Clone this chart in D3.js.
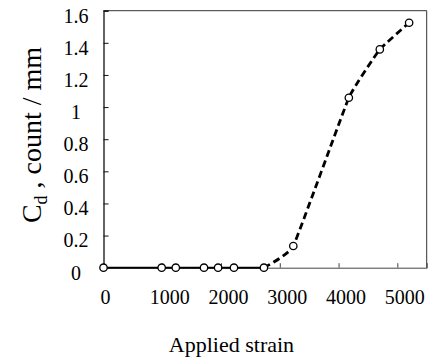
<!DOCTYPE html>
<html>
<head>
<meta charset="utf-8">
<script src="https://cdn.jsdelivr.net/npm/d3@7"></script>
<style>
	body { margin: 0; background: #fff; }
	text { font-family: "Liberation Serif", "Times New Roman", serif; fill: #000; }
</style>
</head>
<body>
<script>
// strain values and crack density (count / mm)
var flatStrain = [0, 990, 1230, 1710, 1950, 2220, 2730];
var flatCd = [0, 0, 0, 0, 0, 0, 0];
var riseStrain = [2730, 3230, 4175, 4702, 5201];
var riseCd = [0, 0.135, 1.058, 1.359, 1.525];
var xTicks = [0, 1000, 2000, 3000, 4000, 5000];
var yTicks = [0, 0.2, 0.4, 0.6, 0.8, 1, 1.2, 1.4, 1.6];

var serif = "'Liberation Serif', 'Times New Roman', serif";

var width = 432,
	height = 358;

var svg = d3.select("body")
			.append("svg")
			.attr("width", width)
			.attr("height", height);

var x = d3.scaleLinear().domain([0, 5500]).range([103.5, 426.7]);
var y = d3.scaleLinear().domain([0, 1.6]).range([267.7, 10.7]);

// box: top and right borders
svg.append("path")
	.attr("d", "M" + x(0) + "," + y(1.6) + "H" + x(5500) + "V" + y(0))
	.attr("fill", "none")
	.attr("stroke", "#333")
	.attr("stroke-width", 1);

// y axis, ticks inside
var yAxis = svg.append("g")
	.attr("transform", "translate(" + x(0) + ",0)")
	.call(d3.axisLeft(y).tickValues(yTicks).tickSize(-5).tickPadding(0)
		.tickFormat(function(d) { return d3.format("~g")(d); }))
	.attr("font-family", serif)
	.attr("font-size", 20);
yAxis.select(".domain").attr("stroke", "#111").attr("stroke-width", 1.3);
yAxis.selectAll(".tick line").attr("stroke", "#111");
yAxis.selectAll("text")
	.attr("x", -27.5)
	.attr("y", 5)
	.attr("text-anchor", "middle");

// x axis, ticks inside
var xAxis = svg.append("g")
	.attr("transform", "translate(0," + y(0) + ")")
	.call(d3.axisBottom(x).tickValues(xTicks).tickSize(-4.5).tickPadding(0)
		.tickFormat(d3.format("d")))
	.attr("font-family", serif)
	.attr("font-size", 20);
xAxis.select(".domain").attr("stroke", "#444").attr("stroke-width", 1);
xAxis.selectAll(".tick line").attr("stroke", "#444");
xAxis.selectAll("text")
	.attr("y", 36.5)
	.attr("dy", 0)
	.attr("dx", function(d) { return d === 0 ? 1.5 : 7; });

var flatPts = flatStrain.map(function(s, i) { return [s, flatCd[i]]; });
var risePts = riseStrain.map(function(s, i) { return [s, riseCd[i]]; });

var line = d3.line()
	.x(function(d) { return x(d[0]); })
	.y(function(d) { return y(d[1]); });

// solid line along zero
svg.append("path")
	.datum(flatPts)
	.attr("d", line)
	.attr("fill", "none")
	.attr("stroke", "#000")
	.attr("stroke-width", 2);

// dashed smoothed line for the rising part
svg.append("path")
	.datum(risePts)
	.attr("d", line.curve(d3.curveCardinal.tension(0.7)))
	.attr("fill", "none")
	.attr("stroke", "#000")
	.attr("stroke-width", 2.8)
	.attr("stroke-dasharray", "7,4");

// markers
svg.selectAll("circle.pt")
	.data(flatPts.concat(risePts.slice(1)))
	.enter()
	.append("circle")
	.attr("class", "pt")
	.attr("cx", function(d) { return x(d[0]); })
	.attr("cy", function(d) { return y(d[1]); })
	.attr("r", 3.7)
	.attr("fill", "#fff")
	.attr("stroke", "#000")
	.attr("stroke-width", 1.3);

// axis titles
svg.append("text")
	.attr("x", 231.5)
	.attr("y", 351.5)
	.attr("text-anchor", "middle")
	.attr("font-family", serif)
	.attr("font-size", 22)
	.text("Applied strain");

var yTitle = svg.append("text")
	.attr("transform", "translate(41,135) rotate(-90)")
	.attr("text-anchor", "middle")
	.attr("font-family", serif)
	.attr("font-size", 28);
yTitle.append("tspan").text("C");
yTitle.append("tspan").attr("dy", 6).attr("font-size", 18).text("d");
yTitle.append("tspan").attr("dy", -6).text(" , count / mm");
</script>
</body>
</html>
